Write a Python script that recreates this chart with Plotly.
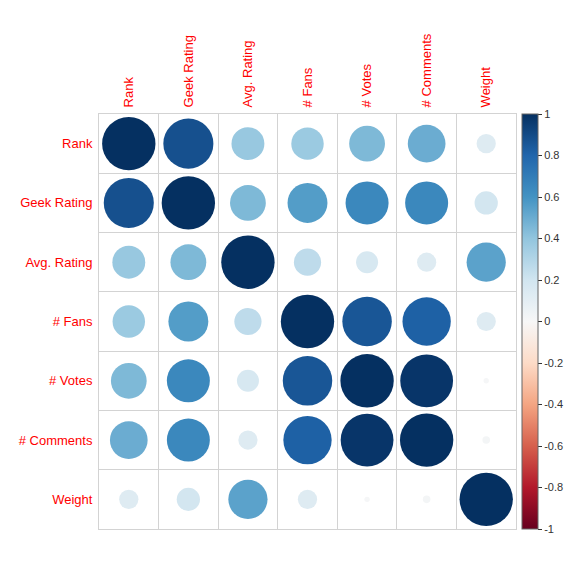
import numpy as np
import plotly.graph_objects as go

labels = ["Rank", "Geek Rating", "Avg. Rating", "# Fans", "# Votes", "# Comments", "Weight"]

# correlation matrix (symmetric)
corr = [
    [1.00, 0.88, 0.38, 0.37, 0.45, 0.50, 0.13],
    [0.88, 1.00, 0.45, 0.56, 0.65, 0.65, 0.19],
    [0.38, 0.45, 1.00, 0.26, 0.17, 0.13, 0.54],
    [0.37, 0.56, 0.26, 1.00, 0.86, 0.82, 0.13],
    [0.45, 0.65, 0.17, 0.86, 1.00, 0.98, 0.01],
    [0.50, 0.65, 0.13, 0.82, 0.98, 1.00, 0.02],
    [0.13, 0.19, 0.54, 0.13, 0.01, 0.02, 1.00],
]

cbar_vals = [1, 0.8, 0.6, 0.4, 0.2, 0, -0.2, -0.4, -0.6, -0.8, -1]
cbar_text = ["1", "0.8", "0.6", "0.4", "0.2", "0", "-0.2", "-0.4", "-0.6", "-0.8", "-1"]

# page body has an 8px margin, so the figure is a bit smaller than the window
W, H = 568, 555
ml, mr, mt, mb = 91, 60, 106, 34
n = len(labels)
cell = min((W - ml - mr) / n, (H - mt - mb) / n)

xs, ys, vals = [], [], []
for i in range(n):
    for j in range(n):
        xs.append(j + 1)
        ys.append(i + 1)
        vals.append(corr[i][j])
vals = np.array(vals)
sizes = 0.9 * cell * np.sqrt(np.abs(vals))

fig = go.Figure()
fig.add_trace(go.Scatter(
    x=xs, y=ys,
    mode="markers",
    marker=dict(
        size=sizes,
        color=vals,
        colorscale="RdBu",
        cmin=-1, cmax=1,
        line=dict(width=0),
        opacity=1,
        colorbar=dict(
            x=(513.7 - ml) / (W - ml - mr), xanchor="left", xpad=0,
            y=0.5, yanchor="middle", len=1, lenmode="fraction",
            thickness=16, ypad=0,
            outlinecolor="#666666", outlinewidth=1,
            tickmode="array", tickvals=cbar_vals, ticktext=cbar_text,
            ticks="outside", ticklen=4, tickcolor="#333333",
            tickfont=dict(size=11, color="#333333"),
        ),
    ),
    hovertemplate="%{x} / %{y}: %{marker.color:.2f}<extra></extra>",
    showlegend=False,
))

fig.update_xaxes(
    range=[0.5, n + 0.5],
    side="top",
    tickvals=list(range(1, n + 1)),
    ticktext=labels,
    tickangle=-90,
    tickfont=dict(size=13, color="red"),
    ticks="", ticklen=0,
    ticklabelstandoff=3,
    automargin=False,
    showgrid=False, zeroline=False,
    minor=dict(tickvals=[k + 0.5 for k in range(n + 1)], showgrid=True,
               gridcolor="#d3d3d3", gridwidth=1, ticks=""),
    showline=True, mirror=True, linecolor="#d3d3d3", linewidth=1,
)
fig.update_yaxes(
    range=[n + 0.5, 0.5],
    tickvals=list(range(1, n + 1)),
    ticktext=labels,
    tickfont=dict(size=13, color="red"),
    ticks="",
    ticklabelstandoff=3,
    automargin=False,
    showgrid=False, zeroline=False,
    minor=dict(tickvals=[k + 0.5 for k in range(n + 1)], showgrid=True,
               gridcolor="#d3d3d3", gridwidth=1, ticks=""),
    showline=True, mirror=True, linecolor="#d3d3d3", linewidth=1,
)

fig.update_layout(
    width=W, height=H,
    margin=dict(l=ml, r=mr, t=mt, b=mb),
    plot_bgcolor="white",
    paper_bgcolor="white",
    font=dict(family="Liberation Sans, Arial, sans-serif"),
)

fig.write_html("out.html")
